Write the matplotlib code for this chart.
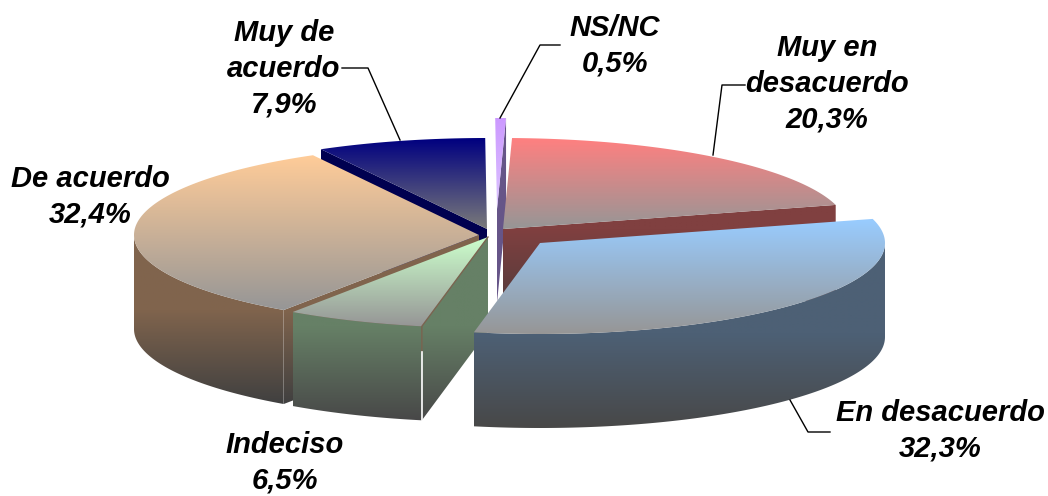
#!/usr/bin/env python
import matplotlib
matplotlib.use("Agg")
import matplotlib.pyplot as plt
from matplotlib.colors import to_rgb
from matplotlib.patches import Polygon
import numpy as np

# data, clockwise
categories = ["NS/NC", "Muy en\ndesacuerdo", "En desacuerdo", "Indeciso", "De acuerdo", "Muy de\nacuerdo"]
values = [0.5, 20.3, 32.3, 6.5, 32.4, 7.9]

# looks
top_from = ["#CC99FF", "#FF8080", "#99CCFF", "#CCFFCC", "#FFCC99", "#000080"]
top_to = ["#DCC4FF", "#969696", "#969696", "#969696", "#969696", "#7A7A7A"]
wall_from = ["#665588", "#804040", "#4D6075", "#668066", "#80644D", "#000050"]
wall_to = ["#665588", "#4A3A3A", "#484848", "#484848", "#404040", "#30304A"]
explode = [(8, -23), (14, -3), (51, 11), (-1, 5), (-10, 3), (-2, -3)]
label_xy = [(615, 46), (827, 84), (940, 431), (285, 463), (90, 197), (284, 69)]

center = (489, 232)
rx, ry = 345, 91
depth = 94
start_angle = -0.3

# label leaders (pixels)
leaders = [
    ([560, 540, 500], [45, 45, 118]),
    ([745, 722, 713], [85, 85, 155]),
    ([830, 808, 790], [432, 432, 400]),
    ([342, 368, 400], [68, 68, 140]),
]

plt.rcParams['font.family'] = ['Liberation Sans', 'DejaVu Sans']
fig = plt.figure(figsize=(10.48, 4.96), dpi=100)
ax = fig.add_axes([0, 0, 1, 1])
ax.axis("off")


def rim(apex, deg):
    t = np.radians(deg)
    return apex[0] + rx * np.sin(t), apex[1] - ry * np.cos(t)


def grad_poly(pts, c1, c2, y1=None, y2=None):
    # polygon filled with a vertical gradient c1 -> c2
    pts = np.array(pts)
    ymin, ymax = pts[:, 1].min(), pts[:, 1].max()
    y1 = ymin if y1 is None else y1
    y2 = ymax if y2 is None else y2
    ys = np.arange(np.floor(ymin), np.ceil(ymax) + 1)
    f = np.clip((ys - y1) / max(y2 - y1, 1), 0, 1)[:, None, None]
    img = (1 - f) * np.array(to_rgb(c1))[None, None, :] + f * np.array(to_rgb(c2))[None, None, :]
    patch = Polygon(pts, closed=True, fc="none", ec="none")
    ax.add_patch(patch)
    im = ax.imshow(img, extent=[pts[:, 0].min(), pts[:, 0].max(), ys[-1], ys[0]],
                   aspect="auto", interpolation="bilinear", zorder=patch.get_zorder())
    im.set_clip_path(patch)
    return im


def face(apex, deg, c1, c2, y1, y2):
    x, y = rim(apex, deg)
    grad_poly([apex, (x, y), (x, y + depth), (apex[0], apex[1] + depth)], c1, c2, y1, y2)


# angles from the values
total = sum(values)
edges = start_angle + np.cumsum([0] + values) / total * 360
slices = []
for i in range(len(values)):
    apex = (center[0] + explode[i][0], center[1] + explode[i][1])
    slices.append((i, apex, edges[i], edges[i + 1]))

# back to front
for i, apex, a0, a1 in [slices[k] for k in (5, 0, 1, 4, 3, 2)]:
    arc = np.linspace(a0, a1, 120)
    top = [apex] + [rim(apex, a) for a in arc]
    low = max(p[1] for p in top)
    y1, y2 = low, low + depth
    if np.sin(np.radians(a0)) < 0 and i != 0:
        face(apex, a0, wall_from[i], wall_to[i], y1, y2)
    if np.sin(np.radians(a1)) > 0:
        face(apex, a1, wall_from[i], wall_to[i], y1, y2)
    b0, b1 = max(a0, 90), min(a1, 270)
    if b1 > b0:
        rr = [rim(apex, a) for a in np.linspace(b0, b1, 120)]
        wall = rr + [(x, y + depth) for x, y in rr[::-1]]
        grad_poly(wall, wall_from[i], wall_to[i], y1, y2)
    grad_poly(top, top_from[i], top_to[i])
    if categories[i] == "Indeciso":
        # thin seam along the cut edge
        x, y = rim(apex, a0)
        ax.plot([apex[0], x, x], [apex[1], y, y + 26], color="#7A6450", lw=1, zorder=3)
        ax.plot([x, x], [y + 26, y + depth], color="white", lw=1.2, zorder=3)

for xs, ys in leaders:
    ax.plot(xs, ys, color="black", lw=1, zorder=4)

for i, cat in enumerate(categories):
    txt = cat + "\n" + ("%.1f%%" % values[i]).replace(".", ",")
    ax.text(label_xy[i][0], label_xy[i][1], txt, ha="center", va="center", fontsize=21,
            fontweight="bold", fontstyle="italic", linespacing=1.35, color="black", zorder=5)

ax.set_xlim(0, 1048)
ax.set_ylim(496, 0)
fig.savefig("out.png", dpi=100, facecolor="white")
